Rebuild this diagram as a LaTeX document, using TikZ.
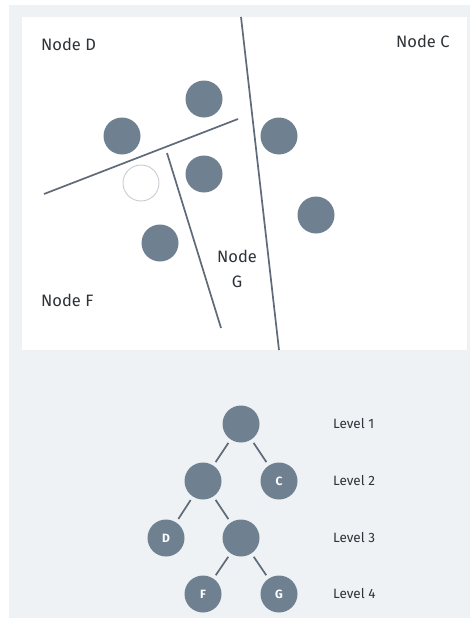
\documentclass[tikz,border=0pt]{standalone}
\usepackage{fontspec}
\setmainfont{Fira Sans}
\definecolor{bgpanel}{HTML}{EEF2F5}
\definecolor{dot}{HTML}{6F8091}
\definecolor{lineclr}{HTML}{5F6B78}
\definecolor{txt}{HTML}{2E3338}
\definecolor{hollow}{HTML}{C8CDD2}
\tikzset{
  dotnode/.style={circle, fill=dot, draw=none, minimum size=37pt, inner sep=0pt, text=white, font=\fontsize{12}{12}\selectfont\bfseries},
  hollownode/.style={circle, draw=hollow, line width=0.9pt, fill=white, minimum size=36pt, inner sep=0pt},
  splitline/.style={draw=lineclr, line width=1.7pt},
  treeedge/.style={draw=lineclr, line width=1.7pt, shorten <=4pt, shorten >=4pt},
  region/.style={text=txt, font=\fontsize{16.5}{18}\selectfont, inner sep=0pt, anchor=west},
  lvl/.style={text=txt, font=\fontsize{13.5}{15}\selectfont, inner sep=0pt, anchor=west}
}
\begin{document}
\begin{tikzpicture}[x=1pt,y=-1pt]
\useasboundingbox (0,0) rectangle (470,618);
\fill[white] (0,0) rectangle (470,618);
\fill[bgpanel] (9,5) rectangle (470,618);
\fill[black!6] (22,18) rectangle (467.5,351);
\fill[white] (22,17) rectangle (467,350);
% split lines
\coordinate (l1a) at (241,17);
\coordinate (l1b) at (279,350);
\coordinate (l2a) at (44,194);
\coordinate (l2b) at (238,119);
\coordinate (l3a) at (167,153);
\coordinate (l3b) at (221,328);
\draw[splitline] (l1a) -- (l1b);
\draw[splitline] (l2a) -- (l2b);
\draw[splitline] (l3a) -- (l3b);
% points
\node[dotnode] (p1) at (204,99) {};
\node[dotnode] (p2) at (122,136) {};
\node[dotnode] (p3) at (279,136) {};
\node[dotnode] (p4) at (204,174) {};
\node[dotnode] (p5) at (316,215) {};
\node[dotnode] (p6) at (160,243) {};
\node[hollownode] (q) at (141,183) {};
% region labels
\node[region] (nd) at (41,44) {Node D};
\node[region] (nc) at (396,41) {Node C};
\node[region] (nf) at (41,300) {Node F};
\node[region, anchor=center] (ng1) at (237,256) {Node};
\node[region, anchor=center] (ng2) at (237,282) {G};
% tree
\node[dotnode] (r) at (241,424) {};
\node[dotnode] (a) at (203,481) {};
\node[dotnode] (c) at (279,481) {C};
\node[dotnode] (d) at (166,538) {D};
\node[dotnode] (b) at (241,538) {};
\node[dotnode] (f) at (203,594) {F};
\node[dotnode] (g) at (279,594) {G};
\draw[treeedge] (r) -- (a);
\draw[treeedge] (r) -- (c);
\draw[treeedge] (a) -- (d);
\draw[treeedge] (a) -- (b);
\draw[treeedge] (b) -- (f);
\draw[treeedge] (b) -- (g);
\node[lvl] (lv1) at (333,424) {Level 1};
\node[lvl] (lv2) at (333,481) {Level 2};
\node[lvl] (lv3) at (333,538) {Level 3};
\node[lvl] (lv4) at (333,594) {Level 4};
\end{tikzpicture}
\end{document}
